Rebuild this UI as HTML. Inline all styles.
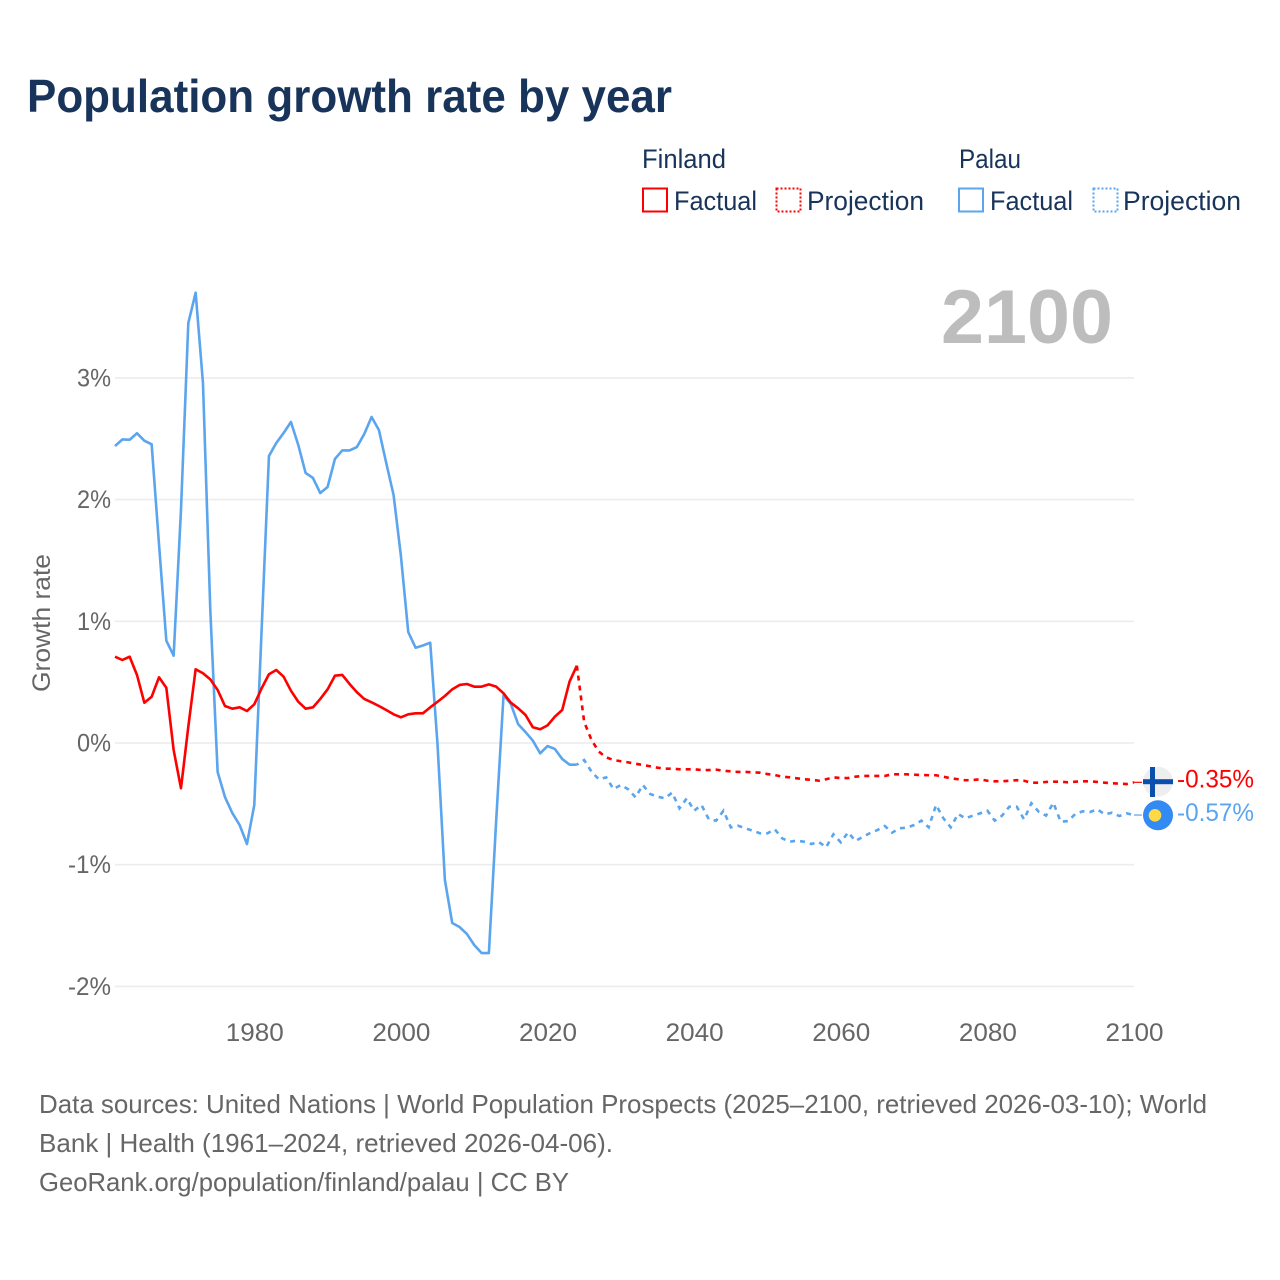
<!DOCTYPE html>
<html lang="en">
<head>
<meta charset="utf-8">
<title>Population growth rate by year</title>
<style>
html,body{margin:0;padding:0;background:#fff}
svg{display:block;font-family:"Liberation Sans",sans-serif}
</style>
</head>
<body>
<svg id="chart" xmlns="http://www.w3.org/2000/svg" width="1280" height="1280" viewBox="0 0 1280 1280">
  <rect width="1280" height="1280" fill="#fff"/>
  <text x="27" y="112" font-size="46" font-weight="700" fill="#18345a" textLength="645" lengthAdjust="spacingAndGlyphs">Population growth rate by year</text>

  <g font-size="27" fill="#18345a">
    <text x="642" y="168" textLength="84" lengthAdjust="spacingAndGlyphs">Finland</text>
    <text x="959" y="168" textLength="62" lengthAdjust="spacingAndGlyphs">Palau</text>
    <rect x="643" y="188.5" width="24" height="23" fill="none" stroke="#ff0000" stroke-width="2"/>
    <text x="674" y="210" textLength="83" lengthAdjust="spacingAndGlyphs">Factual</text>
    <rect x="776.5" y="188.5" width="24" height="23" fill="none" stroke="#ff0000" stroke-width="2" stroke-dasharray="2 2"/>
    <text x="807" y="210" textLength="117" lengthAdjust="spacingAndGlyphs">Projection</text>
    <rect x="959" y="188.5" width="24" height="23" fill="none" stroke="#5ba5ee" stroke-width="2"/>
    <text x="990" y="210" textLength="83" lengthAdjust="spacingAndGlyphs">Factual</text>
    <rect x="1093.5" y="188.5" width="24" height="23" fill="none" stroke="#5ba5ee" stroke-width="2" stroke-dasharray="2 2"/>
    <text x="1123" y="210" textLength="118" lengthAdjust="spacingAndGlyphs">Projection</text>
  </g>

  <text x="941" y="343" font-size="76" font-weight="700" fill="#bdbdbd" textLength="172" lengthAdjust="spacingAndGlyphs">2100</text>
  <text transform="translate(50,692) rotate(-90)" x="0" y="0" font-size="25" fill="#666" textLength="138" lengthAdjust="spacingAndGlyphs">Growth rate</text>

  <g id="grid"></g>
  <g id="yticks"></g>
  <g id="xticks"></g>
  <g id="series"></g>

  <g>
    <circle cx="1158" cy="781.7" r="15" fill="#eeeeee"/>
    <rect x="1150" y="767" width="5" height="30" fill="#0a4fae"/>
    <rect x="1143" y="779.2" width="30" height="5" fill="#0a4fae"/>
  </g>
  <g>
    <circle cx="1158" cy="815.3" r="15" fill="#338af3"/>
    <circle cx="1155" cy="815.3" r="6.3" fill="#ffda44"/>
  </g>
  <g id="endlabels"></g>

  <g font-size="26" fill="#666">
    <text x="39" y="1113" textLength="1168" lengthAdjust="spacingAndGlyphs">Data sources: United Nations | World Population Prospects (2025–2100, retrieved 2026-03-10); World</text>
    <text x="39" y="1152" textLength="574" lengthAdjust="spacingAndGlyphs">Bank | Health (1961–2024, retrieved 2026-04-06).</text>
    <text x="39" y="1191" textLength="530" lengthAdjust="spacingAndGlyphs">GeoRank.org/population/finland/palau | CC BY</text>
  </g>
</svg>
<script>
const yTickValues = [3, 2, 1, 0, -1, -2];
const yTickLabels = ["3%", "2%", "1%", "0%", "-1%", "-2%"];
const xTickValues = [1980, 2000, 2020, 2040, 2060, 2080, 2100];
const xTickLabels = ["1980", "2000", "2020", "2040", "2060", "2080", "2100"];
const factualStartYear = 1961;
const projectionStartYear = 2025;
const finlandFactual = [0.709,0.682,0.709,0.559,0.331,0.38,0.54,0.454,-0.058,-0.372,
0.134,0.606,0.573,0.523,0.436,0.304,0.282,0.293,0.263,0.318,
0.449,0.565,0.6,0.545,0.43,0.339,0.282,0.293,0.362,0.441,
0.553,0.559,0.485,0.417,0.362,0.334,0.304,0.271,0.236,0.211,
0.236,0.244,0.244,0.293,0.339,0.386,0.441,0.477,0.485,0.463,
0.463,0.482,0.463,0.408,0.331,0.285,0.23,0.129,0.113,0.145,
0.216,0.271,0.504,0.635];
const palauFactual = [2.44,2.494,2.492,2.545,2.484,2.454,1.635,0.841,0.717,1.915,
3.451,3.7,2.958,1.093,-0.238,-0.444,-0.575,-0.674,-0.83,-0.509,
0.929,2.358,2.465,2.547,2.638,2.449,2.219,2.178,2.054,2.104,
2.334,2.404,2.404,2.432,2.539,2.679,2.572,2.301,2.038,1.537,
0.912,0.783,0.801,0.824,-0.016,-1.126,-1.479,-1.512,-1.569,-1.66,
-1.726,-1.726,-0.633,0.394,0.32,0.154,0.09,0.019,-0.085,-0.025,
-0.049,-0.131,-0.178,-0.178];
const finlandProjection = [0.173,0.025,-0.071,-0.118,-0.14,-0.15,-0.159,-0.17,-0.181,-0.191,
-0.203,-0.211,-0.211,-0.216,-0.216,-0.216,-0.222,-0.222,-0.219,-0.228,
-0.233,-0.238,-0.238,-0.241,-0.244,-0.255,-0.263,-0.277,-0.282,-0.29,
-0.298,-0.302,-0.31,-0.298,-0.282,-0.288,-0.288,-0.277,-0.271,-0.271,
-0.271,-0.271,-0.257,-0.257,-0.257,-0.26,-0.263,-0.265,-0.265,-0.277,
-0.29,-0.298,-0.306,-0.304,-0.298,-0.31,-0.315,-0.315,-0.31,-0.306,
-0.31,-0.326,-0.326,-0.32,-0.318,-0.318,-0.323,-0.318,-0.315,-0.315,
-0.32,-0.326,-0.331,-0.334,-0.337,-0.323];
const palauProjection = [-0.14,-0.236,-0.298,-0.282,-0.378,-0.345,-0.38,-0.446,-0.345,-0.419,
-0.441,-0.454,-0.408,-0.537,-0.454,-0.556,-0.509,-0.627,-0.638,-0.556,
-0.693,-0.68,-0.701,-0.721,-0.742,-0.742,-0.709,-0.783,-0.811,-0.803,
-0.811,-0.83,-0.813,-0.857,-0.75,-0.816,-0.734,-0.805,-0.772,-0.74,
-0.715,-0.682,-0.737,-0.701,-0.696,-0.674,-0.638,-0.693,-0.509,-0.619,
-0.693,-0.583,-0.619,-0.597,-0.578,-0.556,-0.638,-0.597,-0.523,-0.523,
-0.627,-0.495,-0.565,-0.597,-0.491,-0.647,-0.641,-0.583,-0.561,-0.567,
-0.545,-0.586,-0.573,-0.6,-0.578,-0.592];
const endLabelTexts = ["-0.35%", "-0.57%"];

const NS = "http://www.w3.org/2000/svg";
const xScale = function (year) { return 115 + (year - 1961) * (1134 - 115) / (2100 - 1961); };
const yScale = function (v) { return 743 - v * 121.7; };

function make(tag, parent, attrs, text) {
  const el = document.createElementNS(NS, tag);
  for (const k in attrs) el.setAttribute(k, attrs[k]);
  if (text !== undefined) el.textContent = text;
  parent.appendChild(el);
  return el;
}
function linePath(values, startYear, prefix) {
  let d = prefix || "";
  values.forEach(function (v, i) {
    d += (d ? "L" : "M") + xScale(startYear + i).toFixed(2) + " " + yScale(v).toFixed(2);
  });
  return d;
}

const gridG = document.getElementById("grid");
const yG = document.getElementById("yticks");
yTickValues.forEach(function (v, i) {
  const gl = make("line", gridG, {x1: xScale(1961), x2: xScale(2100), y1: yScale(v), y2: yScale(v), stroke: "#ececec", "stroke-width": 1.6});
  
  
  const lab = yTickLabels[i];
  const tl = make("text", yG, {x: 111, y: yScale(v) + 8.5, "text-anchor": "end", "font-size": 25, fill: "#666", textLength: lab.length === 3 ? 43 : 34, lengthAdjust: "spacingAndGlyphs"}, lab);
  
  
});
const xG = document.getElementById("xticks");
xTickValues.forEach(function (v, i) {
  const tl = make("text", xG, {x: xScale(v) + 0.5, y: 1041, "text-anchor": "middle", "font-size": 25, fill: "#666", textLength: 58, lengthAdjust: "spacingAndGlyphs"}, xTickLabels[i]);
  
  
});

const RED = "#ff0000", BLUE = "#5ba5ee";
const seriesG = document.getElementById("series");

function lastOf(a) { return a[a.length - 1]; }

const palauFactualLine = make("path", seriesG, {d: linePath(palauFactual, factualStartYear), fill: "none", stroke: BLUE, "stroke-width": 2.6, "stroke-linejoin": "round"});



const palauProjectionLine = make("path", seriesG, {d: linePath(palauProjection, projectionStartYear, "M" + xScale(projectionStartYear - 1).toFixed(2) + " " + yScale(lastOf(palauFactual)).toFixed(2)), fill: "none", stroke: BLUE, "stroke-width": 2.6, "stroke-dasharray": "5 5", "stroke-dashoffset": "-7"});



const finlandFactualLine = make("path", seriesG, {d: linePath(finlandFactual, factualStartYear), fill: "none", stroke: RED, "stroke-width": 2.6, "stroke-linejoin": "round"});



const finlandProjectionLine = make("path", seriesG, {d: linePath(finlandProjection, projectionStartYear, "M" + xScale(projectionStartYear - 1).toFixed(2) + " " + yScale(lastOf(finlandFactual)).toFixed(2)), fill: "none", stroke: RED, "stroke-width": 2.6, "stroke-dasharray": "5 5"});



const connA = make("line", seriesG, {x1: xScale(2100), x2: xScale(2100) + 8, y1: yScale(lastOf(finlandProjection)), y2: yScale(lastOf(finlandProjection)), stroke: RED, "stroke-width": 1.2});


const connB = make("line", seriesG, {x1: xScale(2100), x2: xScale(2100) + 8, y1: yScale(lastOf(palauProjection)), y2: yScale(lastOf(palauProjection)), stroke: BLUE, "stroke-width": 1.2});



const endG = document.getElementById("endlabels");
const labelA = make("text", endG, {x: 1177, y: yScale(lastOf(finlandProjection)) + 5, "font-size": 25, fill: RED, textLength: 77, lengthAdjust: "spacingAndGlyphs"}, endLabelTexts[0]);


const labelB = make("text", endG, {x: 1177, y: yScale(lastOf(palauProjection)) + 6, "font-size": 25, fill: BLUE, textLength: 77, lengthAdjust: "spacingAndGlyphs"}, endLabelTexts[1]);


</script>
</body>
</html>
